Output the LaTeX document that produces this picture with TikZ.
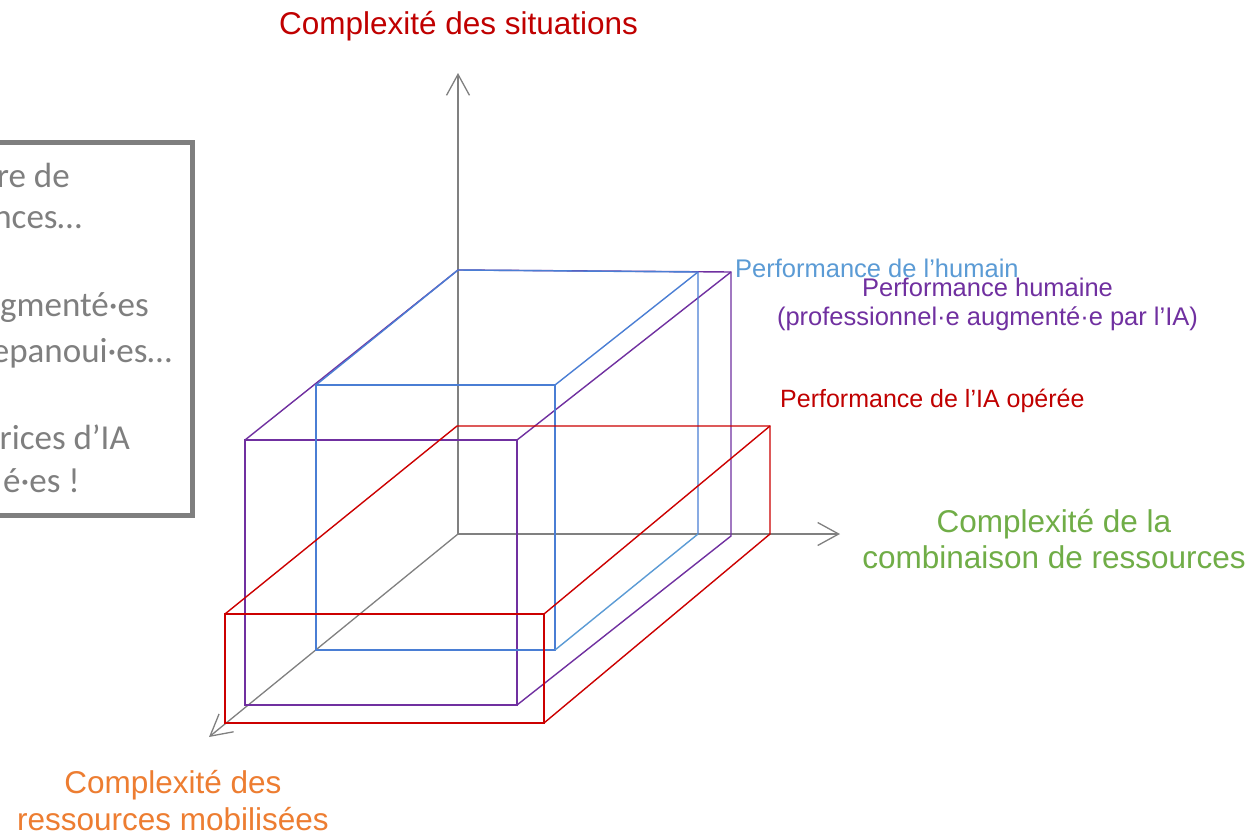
\documentclass[tikz,border=0pt]{standalone}
\usepackage{fontspec}
\setmainfont{Liberation Sans}
\newfontfamily\calibfont{Carlito}
\usetikzlibrary{arrows.meta}
\definecolor{axisgray}{HTML}{808080}
\definecolor{boxblue}{HTML}{4A7ED4}
\definecolor{lblblue}{HTML}{5B9BD5}
\definecolor{boxpurple}{HTML}{7030A0}
\definecolor{boxred}{HTML}{CC0000}
\definecolor{lblred}{HTML}{C00000}
\definecolor{lblgreen}{HTML}{70AD47}
\definecolor{lblorange}{HTML}{ED7D31}
\definecolor{txtgray}{HTML}{7F7F7F}
\begin{document}
\begin{tikzpicture}[x=1bp,y=-1bp,
  axisline/.style={draw=axisgray,line width=1.3bp,-{Straight Barb[length=21bp,width=23bp]}},
  boxline/.style={line width=1.4bp,line join=miter},
  biglbl/.style={inner sep=0pt,font=\fontsize{31.5bp}{36bp}\selectfont},
  smalllbl/.style={inner sep=0pt,font=\fontsize{25.5bp}{30bp}\selectfont},
  leftlbl/.style={inner sep=0pt,anchor=base east,text=txtgray,font=\calibfont\fontsize{35bp}{42bp}\selectfont}]
\useasboundingbox (0,0) rectangle (1252,835);
\fill[white] (0,0) rectangle (1252,835);

% left framed box (partly outside)
\draw[draw=txtgray,line width=4.5bp] (-20,142.5) rectangle (192.5,515.5);
\node[leftlbl] (t1) at (70,187) {re de};
\node[leftlbl] (t2) at (82,228) {nces…};
\node[leftlbl,anchor=base west] (t3) at (0,316) {gmenté·es};
\node[leftlbl] (t4) at (172,362) {epanoui·es…};
\node[leftlbl] (t5) at (130,449) {rices d’IA};
\node[leftlbl] (t6) at (80,492) {é·es !};

% axes
\coordinate (O) at (458,534);
\coordinate (Ytip) at (458,73);
\coordinate (Xtip) at (840,534);
\coordinate (Ztip) at (209,737);
\draw[axisline] (O) -- (Ytip);
\draw[axisline] (O) -- (Xtip);
\draw[axisline] (O) -- (Ztip);

% purple box
\coordinate (pftl) at (245,440);
\coordinate (pftr) at (517,440);
\coordinate (pfbr) at (517,705);
\coordinate (pfbl) at (245,705);
\coordinate (pbtl) at (458,270);
\coordinate (pbtr) at (731,272);
\coordinate (pbbr) at (731,536);
\draw[boxline,boxpurple] (pftl) -- (pftr) -- (pfbr) -- (pfbl) -- cycle;
\draw[boxline,boxpurple] (pftl) -- (pbtl) -- (pbtr) -- (pbbr) -- (pfbr);
\draw[boxline,boxpurple] (pftr) -- (pbtr);

% blue box
\coordinate (bftl) at (316,385);
\coordinate (bftr) at (555,385);
\coordinate (bfbr) at (555,650);
\coordinate (bfbl) at (316,650);
\coordinate (bbtl) at (458,270);
\coordinate (bbtr) at (698,272);
\coordinate (bbbr) at (698,534);
\draw[boxline,boxblue] (bftl) -- (bftr) -- (bfbr) -- (bfbl) -- cycle;
\draw[boxline,boxblue] (bftl) -- (bbtl) -- (bbtr) -- (bbbr);
\draw[boxline,lblblue] (bbbr) -- (bfbr);
\draw[boxline,boxblue] (bftr) -- (bbtr);

% red box
\coordinate (rftl) at (225,614);
\coordinate (rftr) at (544,614);
\coordinate (rfbr) at (544,723);
\coordinate (rfbl) at (225,723);
\coordinate (rbtl) at (457,426);
\coordinate (rbtr) at (770,426);
\coordinate (rbbr) at (770,534);
\draw[boxline,boxred] (rftl) -- (rftr) -- (rfbr) -- (rfbl) -- cycle;
\draw[boxline,boxred] (rftl) -- (rbtl) -- (rbtr) -- (rbbr) -- (rfbr);
\draw[boxline,boxred] (rftr) -- (rbtr);

% axis labels
\node[biglbl,text=lblred,anchor=base] (ylbl) at (458.5,34) {Complexité des situations};
\node[biglbl,text=lblgreen,anchor=base] (xlbl1) at (1054,532) {Complexité de la};
\node[biglbl,text=lblgreen,anchor=base] (xlbl2) at (1054,568) {combinaison de ressources};
\node[biglbl,text=lblorange,anchor=base] (zlbl1) at (173,793) {Complexité des};
\node[biglbl,text=lblorange,anchor=base] (zlbl2) at (173,830) {ressources mobilisées};

% performance labels
\node[smalllbl,text=lblblue,anchor=base west] (hlbl) at (735,277) {Performance de l’humain};
\node[smalllbl,text=boxpurple,anchor=base] (plbl1) at (987.5,296) {Performance humaine};
\node[smalllbl,text=boxpurple,anchor=base] (plbl2) at (987.5,325) {(professionnel·e augmenté·e par l’IA)};
\node[smalllbl,text=lblred,anchor=base west,font=\fontsize{25bp}{30bp}\selectfont] (rlbl) at (780,407) {Performance de l’IA opérée};
\end{tikzpicture}
\end{document}
